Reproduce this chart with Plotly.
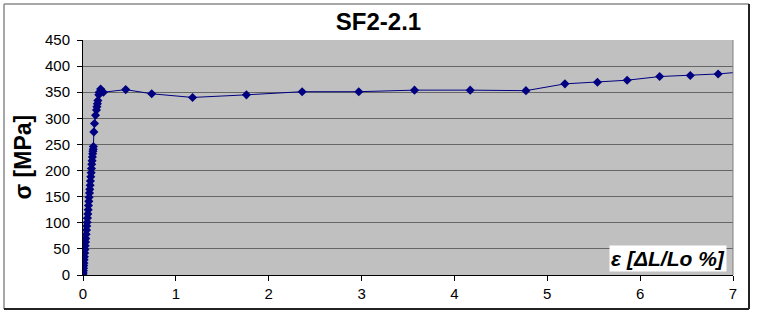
import plotly.graph_objects as go

# Strain (%) and stress (MPa)
strain = [0.0, 0.002, 0.004, 0.006, 0.008, 0.010, 0.012, 0.015, 0.018, 0.021,
          0.024, 0.027, 0.030, 0.034, 0.038, 0.041, 0.045, 0.048, 0.052, 0.056,
          0.059, 0.063, 0.066, 0.070, 0.073, 0.077, 0.080, 0.084, 0.088, 0.091,
          0.094, 0.098, 0.101, 0.104, 0.107, 0.110, 0.112, 0.117, 0.124, 0.135,
          0.145, 0.150, 0.155, 0.160, 0.170, 0.190, 0.175, 0.22, 0.46, 0.74,
          1.18, 1.76, 2.36, 2.97, 3.57, 4.17, 4.77, 5.19, 5.54, 5.86,
          6.21, 6.54, 6.84, 7.10]
stress = [0, 4, 8, 13, 18, 23, 29, 35, 42, 49,
          56, 63, 70, 78, 86, 94, 101, 109, 117, 125,
          133, 141, 149, 157, 164, 172, 180, 188, 196, 204,
          212, 219, 226, 232, 237, 241, 246, 274, 290, 306,
          316, 322, 328, 334, 345, 356, 350, 350, 355, 347,
          340, 345, 351, 351, 354, 354, 353, 366, 369, 373,
          380, 382, 385, 389]

title_text = "SF2-2.1"
y_title = "σ [MPa]"
x_title = "ε [ΔL/Lo %]"
x_ticks = [0, 1, 2, 3, 4, 5, 6, 7]
y_ticks = [0, 50, 100, 150, 200, 250, 300, 350, 400, 450]

W, H = 757, 315
L, R, T, B = 83, 24, 40, 40
pw, ph = W - L - R, H - T - B

def px(xp):
    return (xp - L) / pw

def py(yp):
    return (H - B - yp) / ph

fig = go.Figure()
fig.add_trace(go.Scatter(
    x=strain, y=stress, mode="lines+markers",
    line=dict(color="#000080", width=1),
    marker=dict(symbol="diamond", size=7, color="#000080"),
    cliponaxis=True, showlegend=False))

font_family = "Liberation Sans, Arial, sans-serif"

fig.update_layout(
    width=W, height=H,
    margin=dict(l=L, r=R, t=T, b=B),
    paper_bgcolor="white",
    plot_bgcolor="#C0C0C0",
    font=dict(family=font_family, color="black", size=15),
    title=dict(text="<b>" + title_text + "</b>", x=0.5, xref="container",
               xanchor="center", y=1 - 22 / H, yanchor="middle",
               font=dict(size=24, family=font_family, color="black")),
    xaxis=dict(range=[0, 7], tickvals=x_ticks, showgrid=False, zeroline=False,
               ticks="outside", ticklen=5, tickcolor="black",
               showline=True, linecolor="black", linewidth=1,
               tickfont=dict(size=15)),
    yaxis=dict(range=[0, 450], tickvals=y_ticks, showgrid=True,
               gridcolor="#666666", gridwidth=1, zeroline=False,
               ticks="outside", ticklen=5, tickcolor="black",
               showline=True, linecolor="black", linewidth=1,
               ticklabelstandoff=4,
               tickfont=dict(size=15)),
)

# y-axis title
fig.add_annotation(text="<b>" + y_title + "</b>", xref="paper", yref="paper",
                   x=px(22), y=0.5, xanchor="center", yanchor="middle",
                   textangle=-90, showarrow=False,
                   font=dict(size=23, family=font_family, color="black"))

# x-axis title box
fig.add_annotation(text="<b><i>" + x_title + "</i></b>", xref="paper", yref="paper",
                   x=px(727), y=py(258.5), xanchor="right", yanchor="middle",
                   showarrow=False, bgcolor="white", borderpad=1,
                   font=dict(size=21, family=font_family, color="black"))

# plot area right edge
fig.add_shape(type="line", xref="paper", yref="paper", x0=1, x1=1, y0=0, y1=1,
              line=dict(color="#808080", width=1))

# outer chart border
x0b, x1b, y0b, y1b = px(4), px(749), py(309), py(4)
fig.add_shape(type="line", xref="paper", yref="paper", x0=x0b, x1=x1b, y0=y1b, y1=y1b,
              line=dict(color="#8a8a8a", width=1.5))
fig.add_shape(type="line", xref="paper", yref="paper", x0=x0b, x1=x0b, y0=y0b, y1=y1b,
              line=dict(color="#8a8a8a", width=1.5))
fig.add_shape(type="line", xref="paper", yref="paper", x0=x0b, x1=x1b, y0=y0b, y1=y0b,
              line=dict(color="#222222", width=2))
fig.add_shape(type="line", xref="paper", yref="paper", x0=x1b, x1=x1b, y0=y0b, y1=y1b,
              line=dict(color="#222222", width=2))

fig.write_html("out.html")
